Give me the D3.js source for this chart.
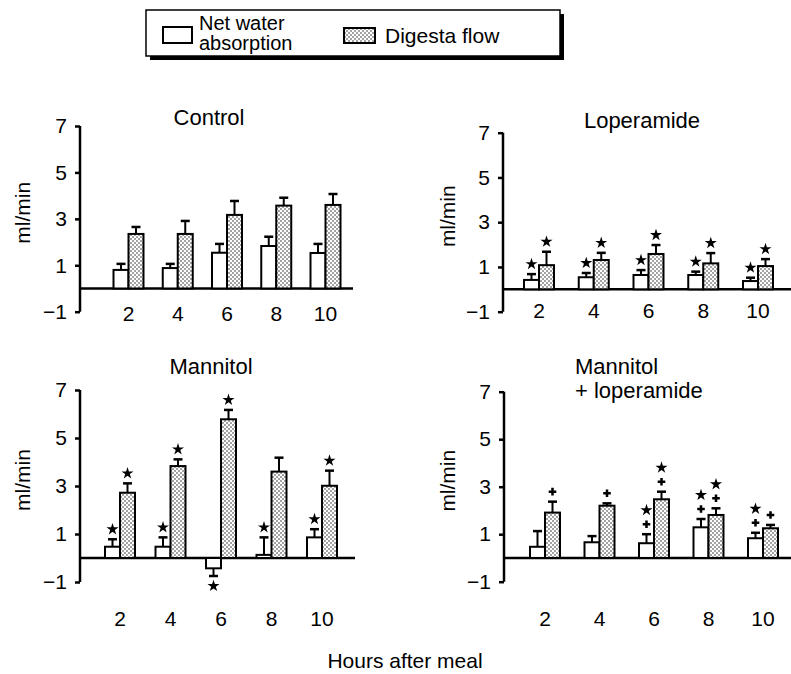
<!DOCTYPE html>
<html>
<head>
<meta charset="utf-8">
<script src="https://cdn.jsdelivr.net/npm/d3@7"></script>
<style>
body { margin:0; background:#fff; }
text { font-family: "Liberation Sans", Arial, Helvetica, sans-serif; fill:#000; }
</style>
</head>
<body>
<div class="chart"></div>
<script>
// hours after meal
const hours = [2, 4, 6, 8, 10];
const yTicks = [7, 5, 3, 1, -1];

// mean and SE, ml/min
const controlWater = [0.8, 0.88, 1.54, 1.83, 1.53];
const controlWaterSE = [0.26, 0.18, 0.38, 0.4, 0.39];
const controlFlow = [2.35, 2.35, 3.17, 3.57, 3.6];
const controlFlowSE = [0.3, 0.56, 0.6, 0.34, 0.47];

const loperWater = [0.42, 0.54, 0.64, 0.64, 0.37];
const loperWaterSE = [0.26, 0.19, 0.22, 0.15, 0.15];
const loperFlow = [1.08, 1.31, 1.58, 1.16, 1.04];
const loperFlowSE = [0.6, 0.32, 0.4, 0.46, 0.31];

const mannWater = [0.47, 0.47, -0.43, 0.13, 0.86];
const mannWaterSE = [0.31, 0.39, 0.32, 0.73, 0.34];
const mannFlow = [2.72, 3.83, 5.78, 3.6, 3.01];
const mannFlowSE = [0.39, 0.28, 0.39, 0.58, 0.63];

const mlWater = [0.47, 0.66, 0.62, 1.29, 0.83];
const mlWaterSE = [0.66, 0.26, 0.38, 0.35, 0.23];
const mlFlow = [1.91, 2.2, 2.47, 1.81, 1.25];
const mlFlowSE = [0.46, 0.1, 0.32, 0.28, 0.14];

// significance marks: * and/or +
const loperWaterSig = ["*", "*", "*", "*", "*"];
const loperFlowSig = ["*", "*", "*", "*", "*"];
const mannWaterSig = ["*", "*", "*", "*", "*"];
const mannFlowSig = ["*", "*", "*", "", "*"];
const mlWaterSig = ["", "", "*+", "*+", "*+"];
const mlFlowSig = ["+", "+", "*+", "*+", "+"];
const noSig = ["", "", "", "", ""];

const W = 791, H = 674;
const svg = d3.select(".chart").append("svg")
    .attr("width", W)
    .attr("height", H);

const defs = svg.append("defs");
const pat = defs.append("pattern")
    .attr("id", "dots")
    .attr("patternUnits", "userSpaceOnUse")
    .attr("width", 4)
    .attr("height", 4);
pat.append("rect").attr("width", 4).attr("height", 4).attr("fill", "#fff");
pat.append("circle").attr("cx", 1).attr("cy", 1).attr("r", 0.7).attr("fill", "#000");
pat.append("circle").attr("cx", 3).attr("cy", 3).attr("r", 0.7).attr("fill", "#000");

// legend
const legend = svg.append("g");
legend.append("rect")
    .attr("x", 150).attr("y", 14).attr("width", 414).attr("height", 46)
    .attr("fill", "#000");
legend.append("rect")
    .attr("x", 146).attr("y", 10).attr("width", 414).attr("height", 46)
    .attr("fill", "#fff").attr("stroke", "#000").attr("stroke-width", 1.5);
legend.append("rect")
    .attr("x", 163).attr("y", 27).attr("width", 29).attr("height", 16)
    .attr("fill", "#fff").attr("stroke", "#000").attr("stroke-width", 2);
legend.append("text").attr("x", 199).attr("y", 30).attr("font-size", 20).text("Net water");
legend.append("text").attr("x", 199).attr("y", 50).attr("font-size", 20).text("absorption");
legend.append("rect")
    .attr("x", 344).attr("y", 28).attr("width", 31).attr("height", 15)
    .attr("fill", "url(#dots)").attr("stroke", "#000").attr("stroke-width", 2);
legend.append("text").attr("x", 385).attr("y", 43).attr("font-size", 21).text("Digesta flow");

const panels = [
    {title: ["Control"], tx: 209, ty: 117, anchor: "middle",
     ax: 80, yTop: 126, yBot: 311.7, x2: 128.5, x10: 325.5, xEnd: 353, labY: 313, ylx: 22,
     water: controlWater, waterSE: controlWaterSE, flow: controlFlow, flowSE: controlFlowSE,
     waterSig: noSig, flowSig: noSig},
    {title: ["Loperamide"], tx: 642, ty: 120, anchor: "middle",
     ax: 503, yTop: 132.7, yBot: 311.7, x2: 539, x10: 758, xEnd: 791, labY: 310, ylx: 447,
     water: loperWater, waterSE: loperWaterSE, flow: loperFlow, flowSE: loperFlowSE,
     waterSig: loperWaterSig, flowSig: loperFlowSig},
    {title: ["Mannitol"], tx: 211, ty: 366, anchor: "middle",
     ax: 80, yTop: 390, yBot: 582, x2: 120, x10: 322, xEnd: 355, labY: 618, ylx: 22,
     water: mannWater, waterSE: mannWaterSE, flow: mannFlow, flowSE: mannFlowSE,
     waterSig: mannWaterSig, flowSig: mannFlowSig},
    {title: ["Mannitol", "+ loperamide"], tx: 575, ty: 366, anchor: "start",
     ax: 504, yTop: 391.7, yBot: 581.7, x2: 545, x10: 763, xEnd: 791, labY: 618, ylx: 447,
     water: mlWater, waterSE: mlWaterSE, flow: mlFlow, flowSE: mlFlowSE,
     waterSig: mlWaterSig, flowSig: mlFlowSig}
];

const barW = 15;
const star = d3.symbol().type(d3.symbolStar).size(45);
const plus = d3.symbol().type(d3.symbolCross).size(32);

panels.forEach(p => {
    const g = svg.append("g");
    const y = d3.scaleLinear().domain([-1, 7]).range([p.yBot, p.yTop]);
    const x = d3.scaleLinear().domain([2, 10]).range([p.x2, p.x10]);

    // title
    p.title.forEach((t, i) => {
        g.append("text")
            .attr("x", p.tx).attr("y", p.ty + i * 24)
            .attr("text-anchor", p.anchor)
            .attr("dominant-baseline", "central")
            .attr("font-size", 22)
            .text(t);
    });

    // y label
    g.append("text")
        .attr("transform", `translate(${p.ylx},${(p.yTop + p.yBot) / 2 - 6}) rotate(-90)`)
        .attr("text-anchor", "middle")
        .attr("dominant-baseline", "central")
        .attr("font-size", 21)
        .text("ml/min");

    // y axis
    const yAxis = d3.axisLeft(y)
        .tickValues(yTicks)
        .tickSize(5)
        .tickSizeOuter(0)
        .tickPadding(8)
        .tickFormat(d => d < 0 ? "\u2212" + Math.abs(d) : d);
    const ya = g.append("g")
        .attr("transform", `translate(${p.ax},0)`)
        .call(yAxis);
    ya.select(".domain").attr("stroke-width", 2.5).attr("d", `M0,${p.yTop}V${p.yBot}`);
    ya.selectAll(".tick line").attr("stroke-width", 2.5);
    ya.selectAll(".tick text")
        .attr("font-size", 21)
        .attr("font-family", "Liberation Sans, Arial, sans-serif");

    // baseline
    g.append("line")
        .attr("x1", p.ax).attr("x2", p.xEnd)
        .attr("y1", y(0)).attr("y2", y(0))
        .attr("stroke", "#000").attr("stroke-width", 2.5);

    // x tick labels
    g.selectAll(".xlab")
        .data(hours)
        .enter()
        .append("text")
        .attr("class", "xlab")
        .attr("x", d => x(d))
        .attr("y", p.labY)
        .attr("text-anchor", "middle")
        .attr("dominant-baseline", "central")
        .attr("font-size", 21)
        .text(d => d);

    const series = [
        {vals: p.water, se: p.waterSE, sig: p.waterSig, off: -barW, fill: "#fff"},
        {vals: p.flow, se: p.flowSE, sig: p.flowSig, off: 0, fill: "url(#dots)"}
    ];

    series.forEach(s => {
        const rows = hours.map((h, i) => ({h: h, v: s.vals[i], se: s.se[i], sig: s.sig[i]}));

        // error bars
        rows.forEach(d => {
            const cx = x(d.h) + s.off + barW / 2;
            const end = d.v >= 0 ? d.v + d.se : d.v - d.se;
            g.append("line")
                .attr("x1", cx).attr("x2", cx)
                .attr("y1", y(d.v)).attr("y2", y(end))
                .attr("stroke", "#000").attr("stroke-width", 2);
            g.append("line")
                .attr("x1", cx - 4.5).attr("x2", cx + 4.5)
                .attr("y1", y(end)).attr("y2", y(end))
                .attr("stroke", "#000").attr("stroke-width", 2.5);

            // markers
            const marks = d.sig.split("").reverse();
            marks.forEach((m, k) => {
                let my;
                if (d.v >= 0) my = y(end) - 10 - k * 14;
                else my = y(end) + 10 + k * 14;
                g.append("path")
                    .attr("d", m === "*" ? star() : plus())
                    .attr("transform", `translate(${cx},${my})`)
                    .attr("fill", "#000");
            });
        });

        g.selectAll(null)
            .data(rows)
            .enter()
            .append("rect")
            .attr("x", d => x(d.h) + s.off)
            .attr("y", d => Math.min(y(d.v), y(0)))
            .attr("width", barW)
            .attr("height", d => Math.abs(y(d.v) - y(0)))
            .attr("fill", s.fill)
            .attr("stroke", "#000")
            .attr("stroke-width", 2);
    });
});

// x axis title
svg.append("text")
    .attr("x", 405).attr("y", 660)
    .attr("text-anchor", "middle")
    .attr("dominant-baseline", "central")
    .attr("font-size", 21)
    .text("Hours after meal");
</script>
</body>
</html>
